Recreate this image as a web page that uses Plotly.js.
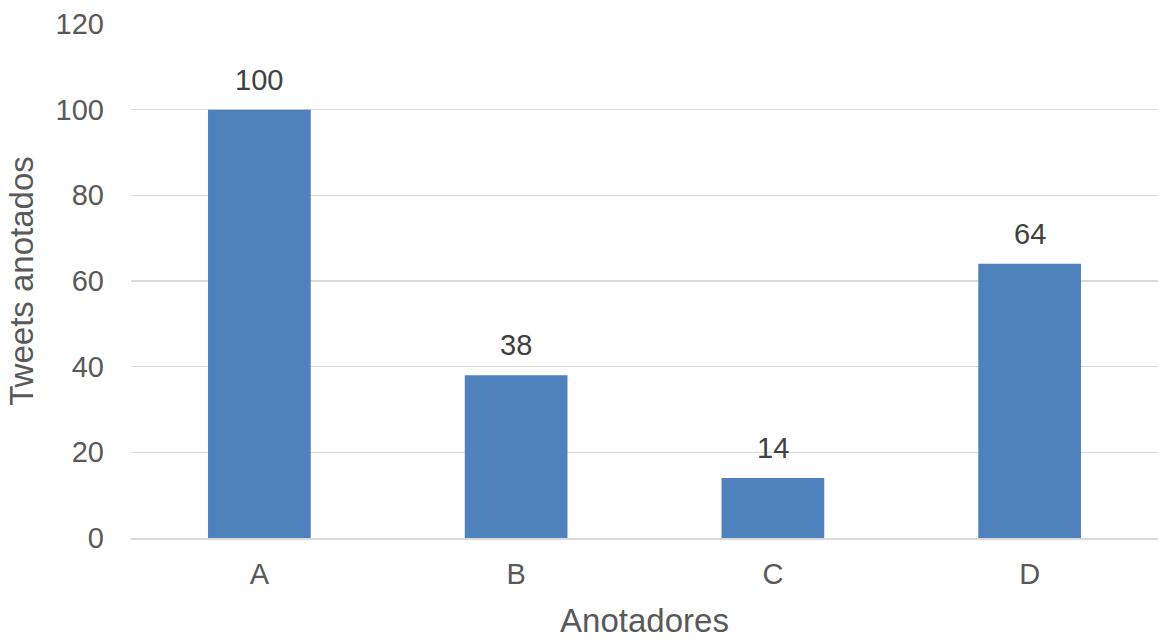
<!DOCTYPE html>
<html>
<head>
<meta charset="utf-8">
<script src="https://cdn.plot.ly/plotly-3.0.1.min.js"></script>
<style>html,body{margin:0;padding:0;background:#fff;}#chart{width:1158px;height:639px;}</style>
</head>
<body>
<div id="chart"></div>
<script>
const categories = ["A", "B", "C", "D"];
const values = [100, 38, 14, 64];
const yTicks = [0, 20, 40, 60, 80, 100, 120];
const xTitle = "Anotadores";
const yTitle = "Tweets anotados";

const trace = {
  type: "bar",
  x: categories,
  y: values,
  width: 0.4,
  marker: {color: "#4F81BD"},
  hoverinfo: "none"
};

const annotations = categories.map((c, i) => ({
  x: c, y: values[i], xref: "x", yref: "y",
  text: String(values[i]), showarrow: false,
  yanchor: "bottom", yshift: 12,
  font: {family: "Liberation Sans, Arial, sans-serif", size: 29, color: "#404040"}
}));

const layout = {
  width: 1158, height: 639,
  margin: {l: 131, r: 0, t: 24, b: 101},
  paper_bgcolor: "#fff", plot_bgcolor: "#fff",
  showlegend: false,
  font: {family: "Liberation Sans, Arial, sans-serif", color: "#595959"},
  xaxis: {
    type: "category",
    showgrid: false,
    showline: true, linecolor: "#D9D9D9", linewidth: 1.5,
    zeroline: false,
    ticks: "",
    tickfont: {size: 29, color: "#595959"},
    ticklabelstandoff: 10,
    title: {text: xTitle, font: {size: 33, color: "#595959"}, standoff: 19}
  },
  yaxis: {
    range: [0, 120],
    tickvals: yTicks,
    showgrid: true, gridcolor: "#D9D9D9", gridwidth: 1.5,
    zeroline: false, showline: false,
    ticks: "",
    automargin: true,
    tickfont: {size: 29, color: "#595959"},
    ticklabelstandoff: 26,
    title: {text: yTitle, font: {size: 33, color: "#595959"}, standoff: 12}
  },
  annotations: annotations
};

Plotly.newPlot("chart", [trace], layout, {displayModeBar: false, staticPlot: true});
</script>
</body>
</html>
